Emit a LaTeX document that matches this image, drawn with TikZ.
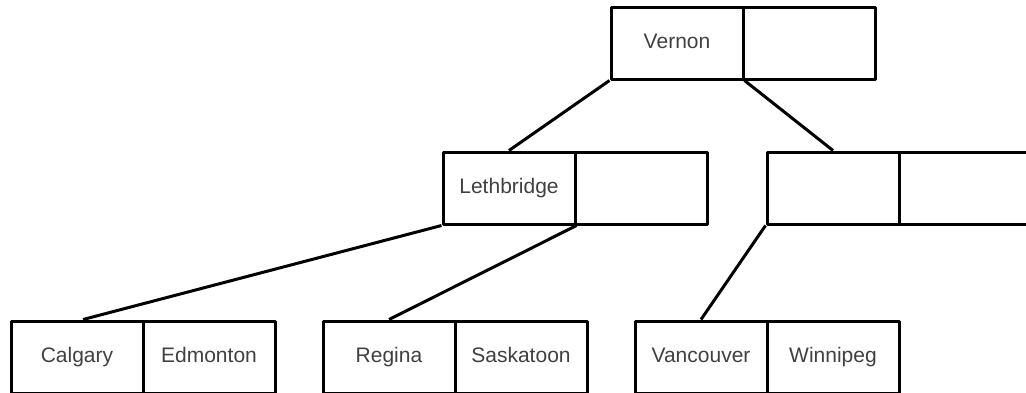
\documentclass[tikz,border=0pt]{standalone}
\usepackage{fontspec}
\setmainfont{Liberation Sans}
\begin{document}
\begin{tikzpicture}[x=0.5pt,y=-0.5pt,
  cell/.style={draw=black,line width=1.5pt,minimum width=66pt,minimum height=36pt,inner sep=0pt,
    font=\fontsize{10.5pt}{12pt}\selectfont,text=black!75,line join=round,
    text height=7.6pt,text depth=2.2pt},
  link/.style={draw=black,line width=1.5pt}]
\useasboundingbox (0,0) rectangle (1026,392);
\clip (0,0) rectangle (1026,392);
% top
\node[cell] (vernon) at (677,43) {Vernon};
\node[cell] (vernonB) at (809,43) {};
% level 2
\node[cell] (leth) at (509,188) {Lethbridge};
\node[cell] (lethB) at (641,188) {};
\node[cell] (rA) at (833,188) {};
\node[cell] (rB) at (965,188) {};
% leaves
\node[cell] (calgary) at (77,357) {Calgary};
\node[cell] (edmonton) at (209,357) {Edmonton};
\node[cell] (regina) at (389,357) {Regina};
\node[cell] (saskatoon) at (521,357) {Saskatoon};
\node[cell] (vancouver) at (701,357) {Vancouver};
\node[cell] (winnipeg) at (833,357) {Winnipeg};
% links
\draw[link] (vernon.south west) -- (leth.north);
\draw[link] (vernon.south east) -- (rA.north);
\draw[link] (leth.south west) -- ([xshift=3pt]calgary.north);
\draw[link] (leth.south east) -- (regina.north);
\draw[link] (rA.south west) -- (vancouver.north);
\end{tikzpicture}
\end{document}
